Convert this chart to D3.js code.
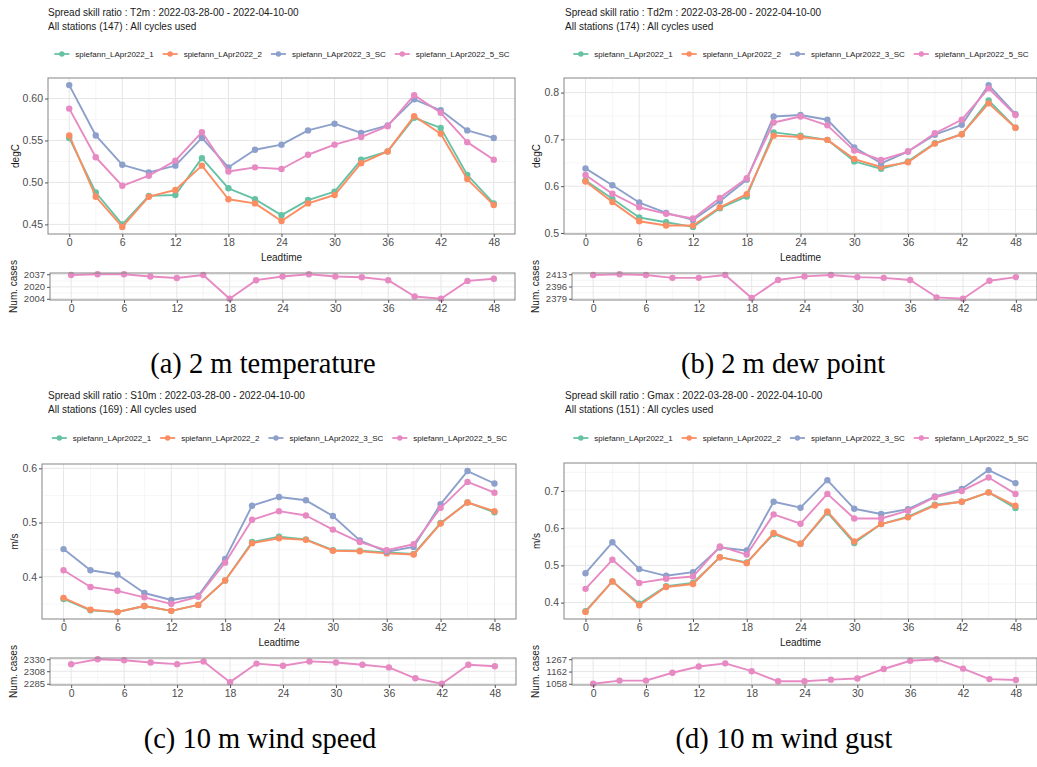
<!DOCTYPE html>
<html>
<head>
<meta charset="utf-8">
<script src="https://cdn.jsdelivr.net/npm/d3@7"></script>
<style>
  html, body { margin: 0; padding: 0; background: #ffffff; }
  svg { display: block; }
</style>
</head>
<body>
<svg id="fig" width="1037" height="767"></svg>
<script>
// ---- Shared axis data ----
const leadtimes = [0, 3, 6, 9, 12, 15, 18, 21, 24, 27, 30, 33, 36, 39, 42, 45, 48];
const leadtimeTicks = [0, 6, 12, 18, 24, 30, 36, 42, 48];
const experiments = ["spiefann_LApr2022_1", "spiefann_LApr2022_2", "spiefann_LApr2022_3_SC", "spiefann_LApr2022_5_SC"];
const expColors = ["#66c2a5", "#fc8d62", "#8da0cb", "#e78ac3"];

// ---- T2m spread skill ratio ----
const t2m_1 = [0.553, 0.488, 0.450, 0.484, 0.485, 0.529, 0.493, 0.480, 0.461, 0.479, 0.489, 0.527, 0.537, 0.577, 0.565, 0.509, 0.475];
const t2m_2 = [0.556, 0.483, 0.447, 0.483, 0.491, 0.520, 0.480, 0.475, 0.454, 0.475, 0.485, 0.523, 0.537, 0.579, 0.558, 0.504, 0.473];
const t2m_3 = [0.616, 0.556, 0.521, 0.512, 0.520, 0.553, 0.518, 0.539, 0.545, 0.562, 0.570, 0.559, 0.568, 0.599, 0.586, 0.562, 0.553];
const t2m_5 = [0.588, 0.530, 0.496, 0.508, 0.526, 0.560, 0.513, 0.518, 0.516, 0.533, 0.545, 0.554, 0.567, 0.604, 0.583, 0.548, 0.527];
const t2m_cases = [2036, 2037, 2037, 2034, 2032, 2036, 2004, 2029, 2034, 2037, 2034, 2033, 2029, 2007, 2004, 2028, 2031];
const t2m_yTicks = [0.45, 0.50, 0.55, 0.60];
const t2m_caseTicks = [2004, 2020, 2037];

// ---- Td2m spread skill ratio ----
const td2m_1 = [0.612, 0.573, 0.533, 0.523, 0.513, 0.553, 0.578, 0.715, 0.708, 0.699, 0.653, 0.637, 0.653, 0.692, 0.711, 0.783, 0.725];
const td2m_2 = [0.610, 0.566, 0.525, 0.516, 0.516, 0.555, 0.583, 0.708, 0.705, 0.699, 0.658, 0.641, 0.651, 0.691, 0.711, 0.777, 0.725];
const td2m_3 = [0.638, 0.602, 0.565, 0.543, 0.528, 0.568, 0.614, 0.749, 0.752, 0.742, 0.683, 0.649, 0.674, 0.710, 0.731, 0.816, 0.754];
const td2m_5 = [0.624, 0.584, 0.555, 0.541, 0.531, 0.575, 0.617, 0.736, 0.749, 0.730, 0.676, 0.656, 0.674, 0.713, 0.742, 0.809, 0.752];
const td2m_cases = [2412, 2413, 2412, 2408, 2408, 2412, 2380, 2405, 2410, 2412, 2409, 2408, 2405, 2381, 2379, 2404, 2409];
const td2m_yTicks = [0.5, 0.6, 0.7, 0.8];
const td2m_caseTicks = [2379, 2396, 2413];

// ---- S10m spread skill ratio ----
const s10m_1 = [0.359, 0.338, 0.335, 0.346, 0.337, 0.348, 0.393, 0.464, 0.474, 0.469, 0.449, 0.448, 0.445, 0.442, 0.499, 0.537, 0.519];
const s10m_2 = [0.361, 0.339, 0.335, 0.346, 0.337, 0.348, 0.393, 0.462, 0.471, 0.468, 0.448, 0.447, 0.443, 0.441, 0.498, 0.537, 0.521];
const s10m_3 = [0.451, 0.412, 0.404, 0.370, 0.357, 0.365, 0.433, 0.531, 0.547, 0.541, 0.512, 0.467, 0.446, 0.455, 0.534, 0.595, 0.572];
const s10m_5 = [0.412, 0.381, 0.374, 0.362, 0.350, 0.363, 0.426, 0.505, 0.521, 0.513, 0.487, 0.464, 0.449, 0.460, 0.527, 0.575, 0.555];
const s10m_cases = [2321, 2330, 2328, 2324, 2321, 2326, 2288, 2322, 2318, 2326, 2324, 2320, 2315, 2295, 2285, 2320, 2317];
const s10m_yTicks = [0.4, 0.5, 0.6];
const s10m_caseTicks = [2285, 2308, 2330];

// ---- Gmax spread skill ratio ----
const gmax_1 = [0.377, 0.457, 0.397, 0.444, 0.453, 0.522, 0.508, 0.584, 0.558, 0.642, 0.560, 0.611, 0.631, 0.663, 0.671, 0.696, 0.654];
const gmax_2 = [0.375, 0.457, 0.393, 0.442, 0.450, 0.522, 0.506, 0.587, 0.558, 0.645, 0.564, 0.611, 0.629, 0.661, 0.671, 0.696, 0.660];
const gmax_3 = [0.479, 0.562, 0.490, 0.472, 0.482, 0.548, 0.540, 0.671, 0.655, 0.729, 0.652, 0.638, 0.651, 0.685, 0.705, 0.756, 0.721];
const gmax_5 = [0.437, 0.515, 0.453, 0.464, 0.470, 0.551, 0.529, 0.637, 0.612, 0.692, 0.626, 0.626, 0.647, 0.683, 0.700, 0.736, 0.692];
const gmax_cases = [1058, 1085, 1085, 1152, 1205, 1232, 1165, 1079, 1079, 1093, 1103, 1184, 1254, 1267, 1187, 1098, 1090];
const gmax_yTicks = [0.4, 0.5, 0.6, 0.7];
const gmax_caseTicks = [1058, 1162, 1267];

// ---- Text ----
const paramNames = ["T2m", "Td2m", "S10m", "Gmax"];
const stationCounts = [147, 174, 169, 151];
const units = ["degC", "degC", "m/s", "m/s"];
const captions = ["(a) 2 m temperature", "(b) 2 m dew point", "(c) 10 m wind speed", "(d) 10 m wind gust"];
const period = "2022-03-28-00 - 2022-04-10-00";

// ---- Figure layout (pixel boxes for each sub-figure) ----
const layout = [
  { top: [48, 515, 78, 234],   bot: [50, 515, 273, 300],   titleX: 48,  titleY: 16,  legY: 54,  unitX: 15,  casesX: 13,  capX: 263, capY: 373, yFmt: ".2f" },
  { top: [564, 1037, 78, 234], bot: [572, 1037, 273, 300], titleX: 565, titleY: 16,  legY: 54,  unitX: 536, casesX: 535, capX: 783, capY: 373, yFmt: ".1f" },
  { top: [42, 516, 464, 619],  bot: [50, 516, 658, 685],   titleX: 48,  titleY: 399, legY: 438, unitX: 14,  casesX: 13,  capX: 260, capY: 748, yFmt: ".1f" },
  { top: [564, 1037, 463, 619], bot: [572, 1037, 658, 685], titleX: 565, titleY: 399, legY: 438, unitX: 536, casesX: 535, capX: 784, capY: 748, yFmt: ".1f" }
];

const seriesByPanel = [
  [t2m_1, t2m_2, t2m_3, t2m_5],
  [td2m_1, td2m_2, td2m_3, td2m_5],
  [s10m_1, s10m_2, s10m_3, s10m_5],
  [gmax_1, gmax_2, gmax_3, gmax_5]
];
const casesByPanel = [t2m_cases, td2m_cases, s10m_cases, gmax_cases];
const yTicksByPanel = [t2m_yTicks, td2m_yTicks, s10m_yTicks, gmax_yTicks];
const caseTicksByPanel = [t2m_caseTicks, td2m_caseTicks, s10m_caseTicks, gmax_caseTicks];

const FONT = "'Liberation Sans', Arial, Helvetica, sans-serif";
const svg = d3.select("#fig");

function expand(ext) {
  const pad = (ext[1] - ext[0]) * 0.05;
  return [ext[0] - pad, ext[1] + pad];
}

function minorBetween(ticks, domain) {
  const step = ticks[1] - ticks[0];
  const out = [];
  for (let i = -1; i < ticks.length; i++) {
    const v = ticks[0] + step * (i + 0.5);
    if (v > domain[0] && v < domain[1]) out.push(v);
  }
  return out;
}

// One framed plotting area: grid, border, axes, and lines with points
function drawFrame(g, box, x, y, yTicks, yFmt, seriesList, colorList, tickSize) {
  const [x0, x1, y0, y1] = box;
  const xMinor = minorBetween(leadtimeTicks, x.domain());
  const yMinor = minorBetween(yTicks, y.domain());

  g.append("rect").attr("x", x0).attr("y", y0).attr("width", x1 - x0).attr("height", y1 - y0).attr("fill", "#ffffff");

  const grid = g.append("g");
  grid.selectAll(".xmin").data(xMinor).join("line")
    .attr("x1", d => x(d)).attr("x2", d => x(d)).attr("y1", y0).attr("y2", y1)
    .attr("stroke", "#f2f2f2").attr("stroke-width", 0.7);
  grid.selectAll(".ymin").data(yMinor).join("line")
    .attr("x1", x0).attr("x2", x1).attr("y1", d => y(d)).attr("y2", d => y(d))
    .attr("stroke", "#f2f2f2").attr("stroke-width", 0.7);
  grid.selectAll(".xmaj").data(leadtimeTicks).join("line")
    .attr("x1", d => x(d)).attr("x2", d => x(d)).attr("y1", y0).attr("y2", y1)
    .attr("stroke", "#e6e6e6").attr("stroke-width", 1);
  grid.selectAll(".ymaj").data(yTicks).join("line")
    .attr("x1", x0).attr("x2", x1).attr("y1", d => y(d)).attr("y2", d => y(d))
    .attr("stroke", "#e6e6e6").attr("stroke-width", 1);

  // data
  const line = d3.line().x((d, i) => x(leadtimes[i])).y(d => y(d));
  seriesList.forEach((vals, k) => {
    const s = g.append("g");
    s.append("path").datum(vals).attr("d", line)
      .attr("fill", "none").attr("stroke", colorList[k]).attr("stroke-width", 1.9)
      .attr("stroke-linejoin", "round");
    s.selectAll("circle").data(vals).join("circle")
      .attr("cx", (d, i) => x(leadtimes[i])).attr("cy", d => y(d)).attr("r", 3.2)
      .attr("fill", colorList[k]);
  });

  g.append("rect").attr("x", x0).attr("y", y0).attr("width", x1 - x0).attr("height", y1 - y0)
    .attr("fill", "none").attr("stroke", "#858585").attr("stroke-width", 1);

  // y axis
  const yAxis = d3.axisLeft(y).tickValues(yTicks).tickSize(3).tickPadding(2).tickFormat(d3.format(yFmt));
  const ya = g.append("g").attr("transform", `translate(${x0},0)`).call(yAxis);
  ya.select(".domain").remove();
  ya.selectAll("line").attr("stroke", "#555");
  ya.selectAll("text").attr("fill", "#4d4d4d").style("font-family", FONT).style("font-size", tickSize + "px");

  // x axis
  const xAxis = d3.axisBottom(x).tickValues(leadtimeTicks).tickSize(3).tickPadding(2);
  const xa = g.append("g").attr("transform", `translate(0,${y1})`).call(xAxis);
  xa.select(".domain").remove();
  xa.selectAll("line").attr("stroke", "#555");
  xa.selectAll("text").attr("fill", "#4d4d4d").style("font-family", FONT).style("font-size", "10.5px");
}

layout.forEach((L, p) => {
  const g = svg.append("g");
  const series = seriesByPanel[p];

  // titles
  g.append("text").attr("x", L.titleX).attr("y", L.titleY)
    .style("font-family", FONT).style("font-size", "10px").attr("fill", "#1a1a1a")
    .text(`Spread skill ratio : ${paramNames[p]} : ${period}`);
  g.append("text").attr("x", L.titleX).attr("y", L.titleY + 14)
    .style("font-family", FONT).style("font-size", "10px").attr("fill", "#1a1a1a")
    .text(`All stations (${stationCounts[p]}) : All cycles used`);

  // legend, centred over the main plotting area
  const leg = g.append("g");
  const keyW = 17, keyGap = 5, itemGap = 8;
  let cx = 0;
  const items = [];
  experiments.forEach((name, k) => {
    const t = leg.append("text").attr("y", L.legY + 3)
      .style("font-family", FONT).style("font-size", "8px").attr("fill", "#1a1a1a").text(name);
    const w = t.node().getComputedTextLength();
    items.push({ t, k, start: cx, w });
    cx += keyW + keyGap + w + itemGap;
  });
  const total = cx - itemGap;
  const legStart = (L.top[0] + L.top[1]) / 2 - total / 2;
  items.forEach(it => {
    const kx = legStart + it.start;
    leg.append("line").attr("x1", kx + 1).attr("x2", kx + keyW - 1).attr("y1", L.legY).attr("y2", L.legY)
      .attr("stroke", expColors[it.k]).attr("stroke-width", 1.8);
    leg.append("circle").attr("cx", kx + keyW / 2).attr("cy", L.legY).attr("r", 2.7).attr("fill", expColors[it.k]);
    it.t.attr("x", kx + keyW + keyGap);
  });

  // main plot
  const [tx0, tx1, ty0, ty1] = L.top;
  const x = d3.scaleLinear().domain(expand([0, 48])).range([tx0, tx1]);
  const yDom = expand(d3.extent(series.flat()));
  const y = d3.scaleLinear().domain(yDom).range([ty1, ty0]);
  drawFrame(g, L.top, x, y, yTicksByPanel[p], L.yFmt, series, expColors, 10.5);

  g.append("text").attr("x", (tx0 + tx1) / 2).attr("y", ty1 + 27).attr("text-anchor", "middle")
    .style("font-family", FONT).style("font-size", "10px").attr("fill", "#1a1a1a").text("Leadtime");
  g.append("text").attr("transform", `translate(${L.unitX},${(ty0 + ty1) / 2}) rotate(-90)`)
    .attr("text-anchor", "middle").attr("dy", "0.35em")
    .style("font-family", FONT).style("font-size", "10px").attr("fill", "#1a1a1a").text(units[p]);

  // number of cases
  const [bx0, bx1, by0, by1] = L.bot;
  const xb = d3.scaleLinear().domain(expand([0, 48])).range([bx0, bx1]);
  const cases = casesByPanel[p];
  const yb = d3.scaleLinear().domain(expand(d3.extent(cases))).range([by1, by0]);
  drawFrame(g, L.bot, xb, yb, caseTicksByPanel[p], "d", [cases], [expColors[3]], 9.5);
  g.append("text").attr("transform", `translate(${L.casesX},${(by0 + by1) / 2}) rotate(-90)`)
    .attr("text-anchor", "middle").attr("dy", "0.35em")
    .style("font-family", FONT).style("font-size", "10px").attr("fill", "#1a1a1a").text("Num. cases");

  // caption
  g.append("text").attr("x", L.capX).attr("y", L.capY).attr("text-anchor", "middle")
    .style("font-family", "'Liberation Serif', 'Times New Roman', serif").style("font-size", "28.5px")
    .attr("fill", "#000").text(captions[p]);
});
</script>
</body>
</html>
